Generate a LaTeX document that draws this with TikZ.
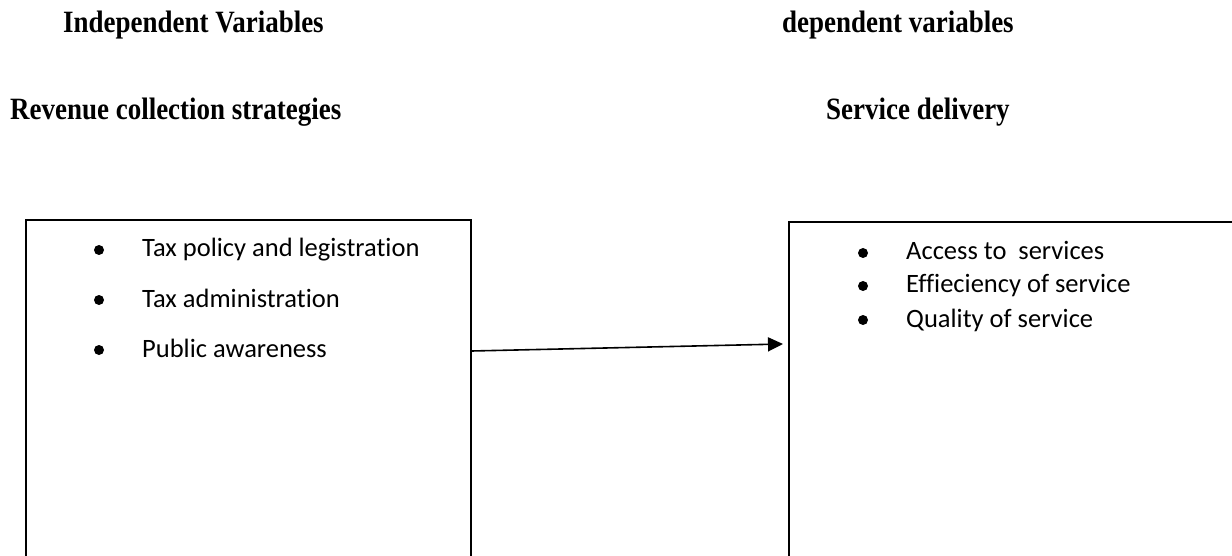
\documentclass[tikz,border=0pt]{standalone}
\usepackage{fontspec}
\usetikzlibrary{arrows.meta}
\newfontfamily\headfont[FakeStretch=0.87]{Liberation Serif}
\newfontfamily\itemfont[Ligatures={NoCommon}]{Carlito}
\begin{document}
\begin{tikzpicture}[x=1pt,y=-1pt,
  head/.style={inner sep=0pt,anchor=base west,font=\headfont\bfseries\fontsize{31}{37}\selectfont},
  item/.style={inner sep=0pt,anchor=base west,font=\itemfont\fontsize{26.5}{32}\selectfont},
  dot/.style={circle,fill=black,inner sep=0pt,minimum size=10pt},
  frame/.style={draw=black,line width=1.6pt,anchor=north west,inner sep=0pt},
  link/.style={line width=1.6pt,-{Triangle[length=15pt,width=14pt]}}]
\clip (0,0) rectangle (1232,556);
\fill[white] (0,0) rectangle (1232,556);
% headings
\node[head] (hiv) at (63,33) {Independent Variables};
\node[head] (hdv) at (782,33) {dependent variables};
\node[head] (hrc) at (10,120) {Revenue collection strategies};
\node[head] (hsd) at (826,120) {Service delivery};
% boxes
\node[frame,minimum width=445pt,minimum height=420pt] (lbox) at (25,219) {};
\node[frame,minimum width=500pt,minimum height=420pt] (rbox) at (788,221) {};
% left items
\node[dot] (lb1) at (99,250) {};
\node[item] (li1) at (142,257) {Tax policy and legistration};
\node[dot] (lb2) at (99,300) {};
\node[item] (li2) at (142,307) {Tax administration};
\node[dot] (lb3) at (99,350) {};
\node[item] (li3) at (142,357) {Public awareness};
% right items
\node[dot] (rb1) at (863,253) {};
\node[item] (ri1) at (906,260) {Access to\ \ services};
\node[dot] (rb2) at (863,286) {};
\node[item] (ri2) at (906,293) {Effieciency of service};
\node[dot] (rb3) at (863,320) {};
\node[item] (ri3) at (906,327) {Quality of service};
% arrow
\coordinate (as) at (lbox.north east |- 0,351);
\coordinate (ae) at (783,344);
\draw[link] (as) -- (ae);
\end{tikzpicture}
\end{document}
